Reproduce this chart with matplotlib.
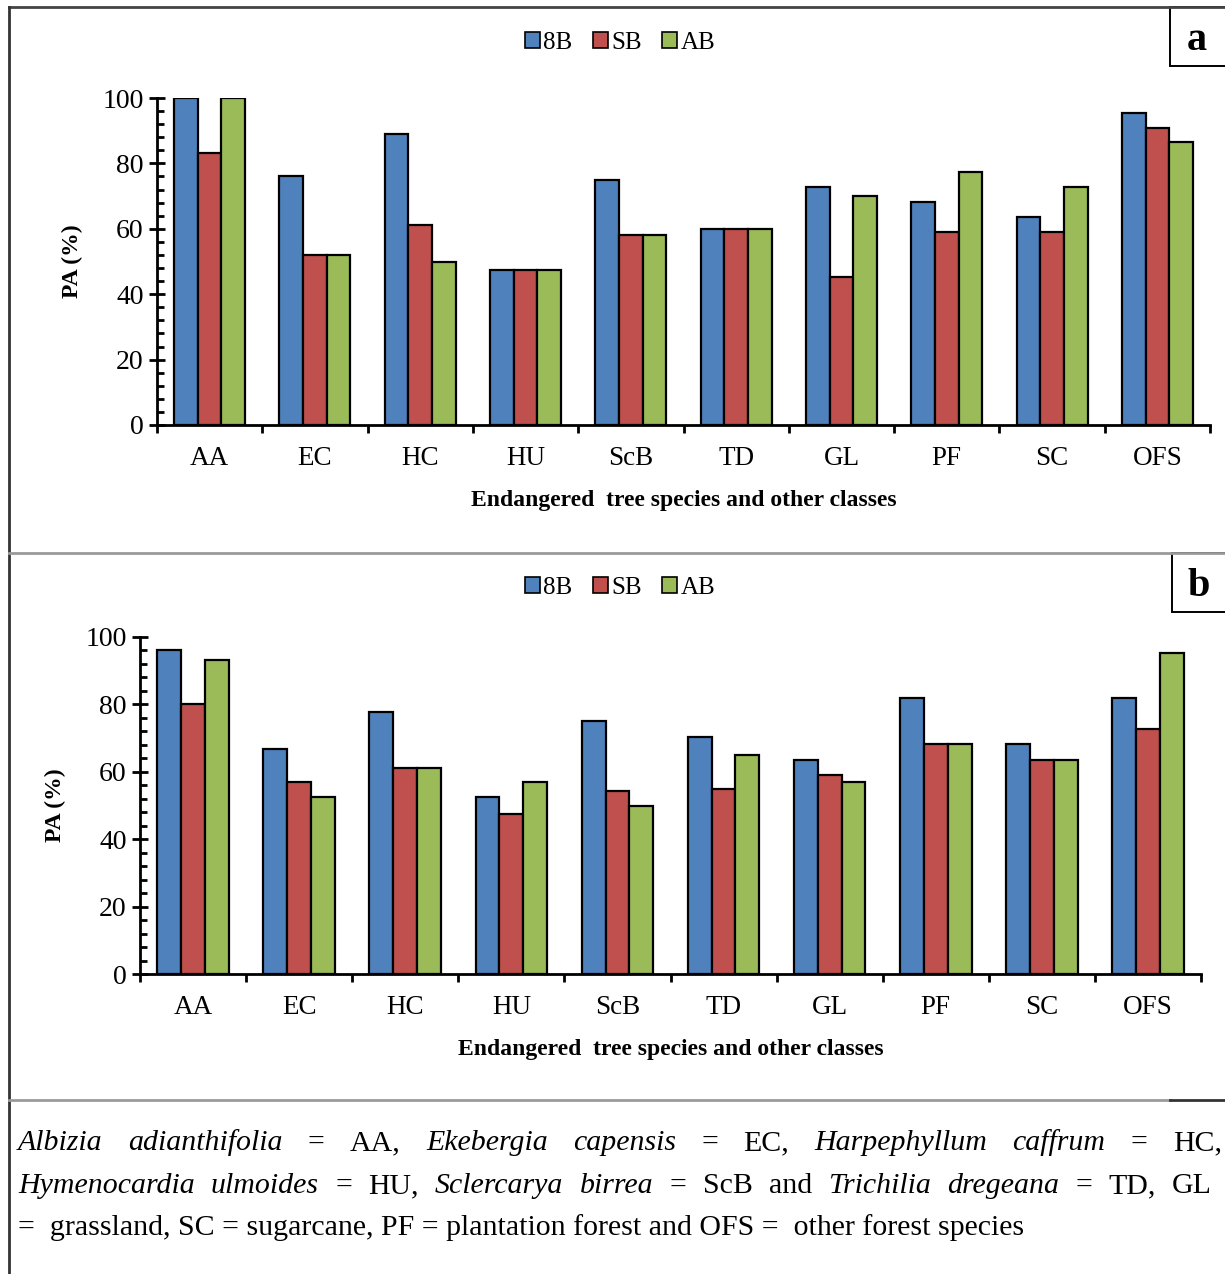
import numpy as np
import matplotlib.pyplot as plt
from matplotlib.lines import Line2D
from matplotlib.patches import Rectangle, Patch

plt.rcParams['font.family'] = ['Liberation Serif', 'DejaVu Serif']

classes = ['AA', 'EC', 'HC', 'HU', 'ScB', 'TD', 'GL', 'PF', 'SC', 'OFS']
series = ['8B', 'SB', 'AB']
colors = ['#4F81BD', '#C0504D', '#9BBB59']

# producer's accuracy, panel a
pa_a_8b = [100, 76, 89, 47.4, 75, 60, 72.7, 68.2, 63.6, 95.5]
pa_a_sb = [83.3, 52, 61.1, 47.4, 58, 60, 45.2, 59, 59, 90.9]
pa_a_ab = [100, 52, 50, 47.4, 58, 60, 70, 77.3, 72.7, 86.4]

# producer's accuracy, panel b
pa_b_8b = [96.2, 66.7, 77.8, 52.4, 75, 70.2, 63.6, 81.8, 68.2, 81.8]
pa_b_sb = [80, 57.1, 61.1, 47.6, 54.2, 55, 59, 68.2, 63.6, 72.7]
pa_b_ab = [93.3, 52.4, 61.1, 57.1, 50, 65, 57.1, 68.2, 63.6, 95.2]

W, H = 1225, 1274
fig = plt.figure(figsize=(W / 100, H / 100), dpi=100)


def px_rect(left, right, top, bottom):
    return [left / W, 1 - bottom / H, (right - left) / W, (bottom - top) / H]


def bar_panel(rect, data):
    ax = fig.add_axes(rect)
    x = np.arange(len(classes))
    w = 0.225
    for k, vals in enumerate(data):
        ax.bar(x + (k - 1) * w, vals, w, color=colors[k], edgecolor='black',
               linewidth=1.6, zorder=3)
    ax.set_xlim(-0.5, len(classes) - 0.5)
    ax.set_ylim(0, 100)
    for s in ['top', 'right']:
        ax.spines[s].set_visible(False)
    for s in ['left', 'bottom']:
        ax.spines[s].set_linewidth(2)
    ax.set_yticks(np.arange(0, 101, 20))
    ax.set_yticks(np.arange(0, 101, 4), minor=True)
    ax.tick_params(axis='y', which='major', direction='inout', length=11,
                   width=2, labelsize=20, pad=4)
    ax.tick_params(axis='y', which='minor', direction='in', length=5, width=2)
    # boundary ticks between classes, labels centred on each class
    ax.set_xticks(np.arange(-0.5, len(classes)), labels=[])
    ax.set_xticks(x, labels=classes, minor=True)
    ax.tick_params(axis='x', which='major', direction='out', length=6, width=2)
    ax.tick_params(axis='x', which='minor', length=0, labelsize=19.5, pad=15)
    ax.set_xlabel('Endangered  tree species and other classes',
                  fontsize=17, fontweight='bold', labelpad=14)
    ax.set_ylabel('PA (%)', fontsize=17, fontweight='bold')
    ax.yaxis.set_label_coords(-0.07, 0.5)
    return ax


ax_a = bar_panel(px_rect(157, 1210, 98, 425), [pa_a_8b, pa_a_sb, pa_a_ab])
ax_b = bar_panel(px_rect(140, 1201, 637, 974), [pa_b_8b, pa_b_sb, pa_b_ab])

handles = [Patch(facecolor=c, edgecolor='black', linewidth=1.2) for c in colors]
for yc in (43, 588):
    fig.legend(handles, series, loc='center', bbox_to_anchor=(620 / W, 1 - yc / H),
               ncol=3, frameon=False, fontsize=18, handlelength=0.6,
               handleheight=0.6, handletextpad=0.15, columnspacing=0.8)


def fline(x0, y0, x1, y1, color, lw=2):
    fig.add_artist(Line2D([x0 / W, x1 / W], [1 - y0 / H, 1 - y1 / H],
                          color=color, lw=lw, transform=fig.transFigure))


# outer frame and panel dividers
fline(9, 7, W, 7, '#444444')
fline(9, 7, 9, H, '#333333')
fline(9, 553, W, 553, '#9a9a9a')
fline(9, 1100, 1170, 1100, '#9a9a9a')
fline(1170, 1100, W, 1100, '#333333')

for letter, (bx, by0, by1) in zip('ab', [(1170, 7, 66), (1172, 553, 612)]):
    fig.add_artist(Rectangle((bx / W, 1 - by1 / H), 80 / W, (by1 - by0) / H,
                             facecolor='white', edgecolor='black', lw=1.4,
                             transform=fig.transFigure))
    fig.text((bx + 27) / W, 1 - ((by0 + by1) / 2 + 4) / H, letter, fontsize=29,
             fontweight='bold', ha='center', va='center')

# footnote with species names in italics, first two lines justified
notes = [
    [('Albizia', 'italic'), ('adianthifolia', 'italic'), ('=', 'normal'), ('AA,', 'normal'),
     ('Ekebergia', 'italic'), ('capensis', 'italic'), ('=', 'normal'), ('EC,', 'normal'),
     ('Harpephyllum', 'italic'), ('caffrum', 'italic'), ('=', 'normal'), ('HC,', 'normal')],
    [('Hymenocardia', 'italic'), ('ulmoides', 'italic'), ('=', 'normal'), ('HU,', 'normal'),
     ('Sclercarya', 'italic'), ('birrea', 'italic'), ('=', 'normal'), ('ScB', 'normal'),
     ('and', 'normal'), ('Trichilia', 'italic'), ('dregeana', 'italic'), ('=', 'normal'),
     ('TD,', 'normal'), ('GL', 'normal')],
]
note_tail = '=  grassland, SC = sugarcane, PF = plantation forest and OFS =  other forest species'
note_rows = [1143, 1186, 1228]
note_right = [1222, 1212]
note_size = 21.5

renderer = fig.canvas.get_renderer()
for words, yc, xr in zip(notes, note_rows, note_right):
    texts = [fig.text(0, 1 - yc / H, wd, style=st, fontsize=note_size, va='center')
             for wd, st in words]
    widths = [t.get_window_extent(renderer).width for t in texts]
    gap = (xr - 18 - sum(widths)) / (len(texts) - 1)
    xpos = 18
    for t, wdt in zip(texts, widths):
        t.set_x(xpos / W)
        xpos += wdt + gap
fig.text(18 / W, 1 - note_rows[2] / H, note_tail, fontsize=note_size, va='center')

fig.savefig('out.png', dpi=100, facecolor='white')
